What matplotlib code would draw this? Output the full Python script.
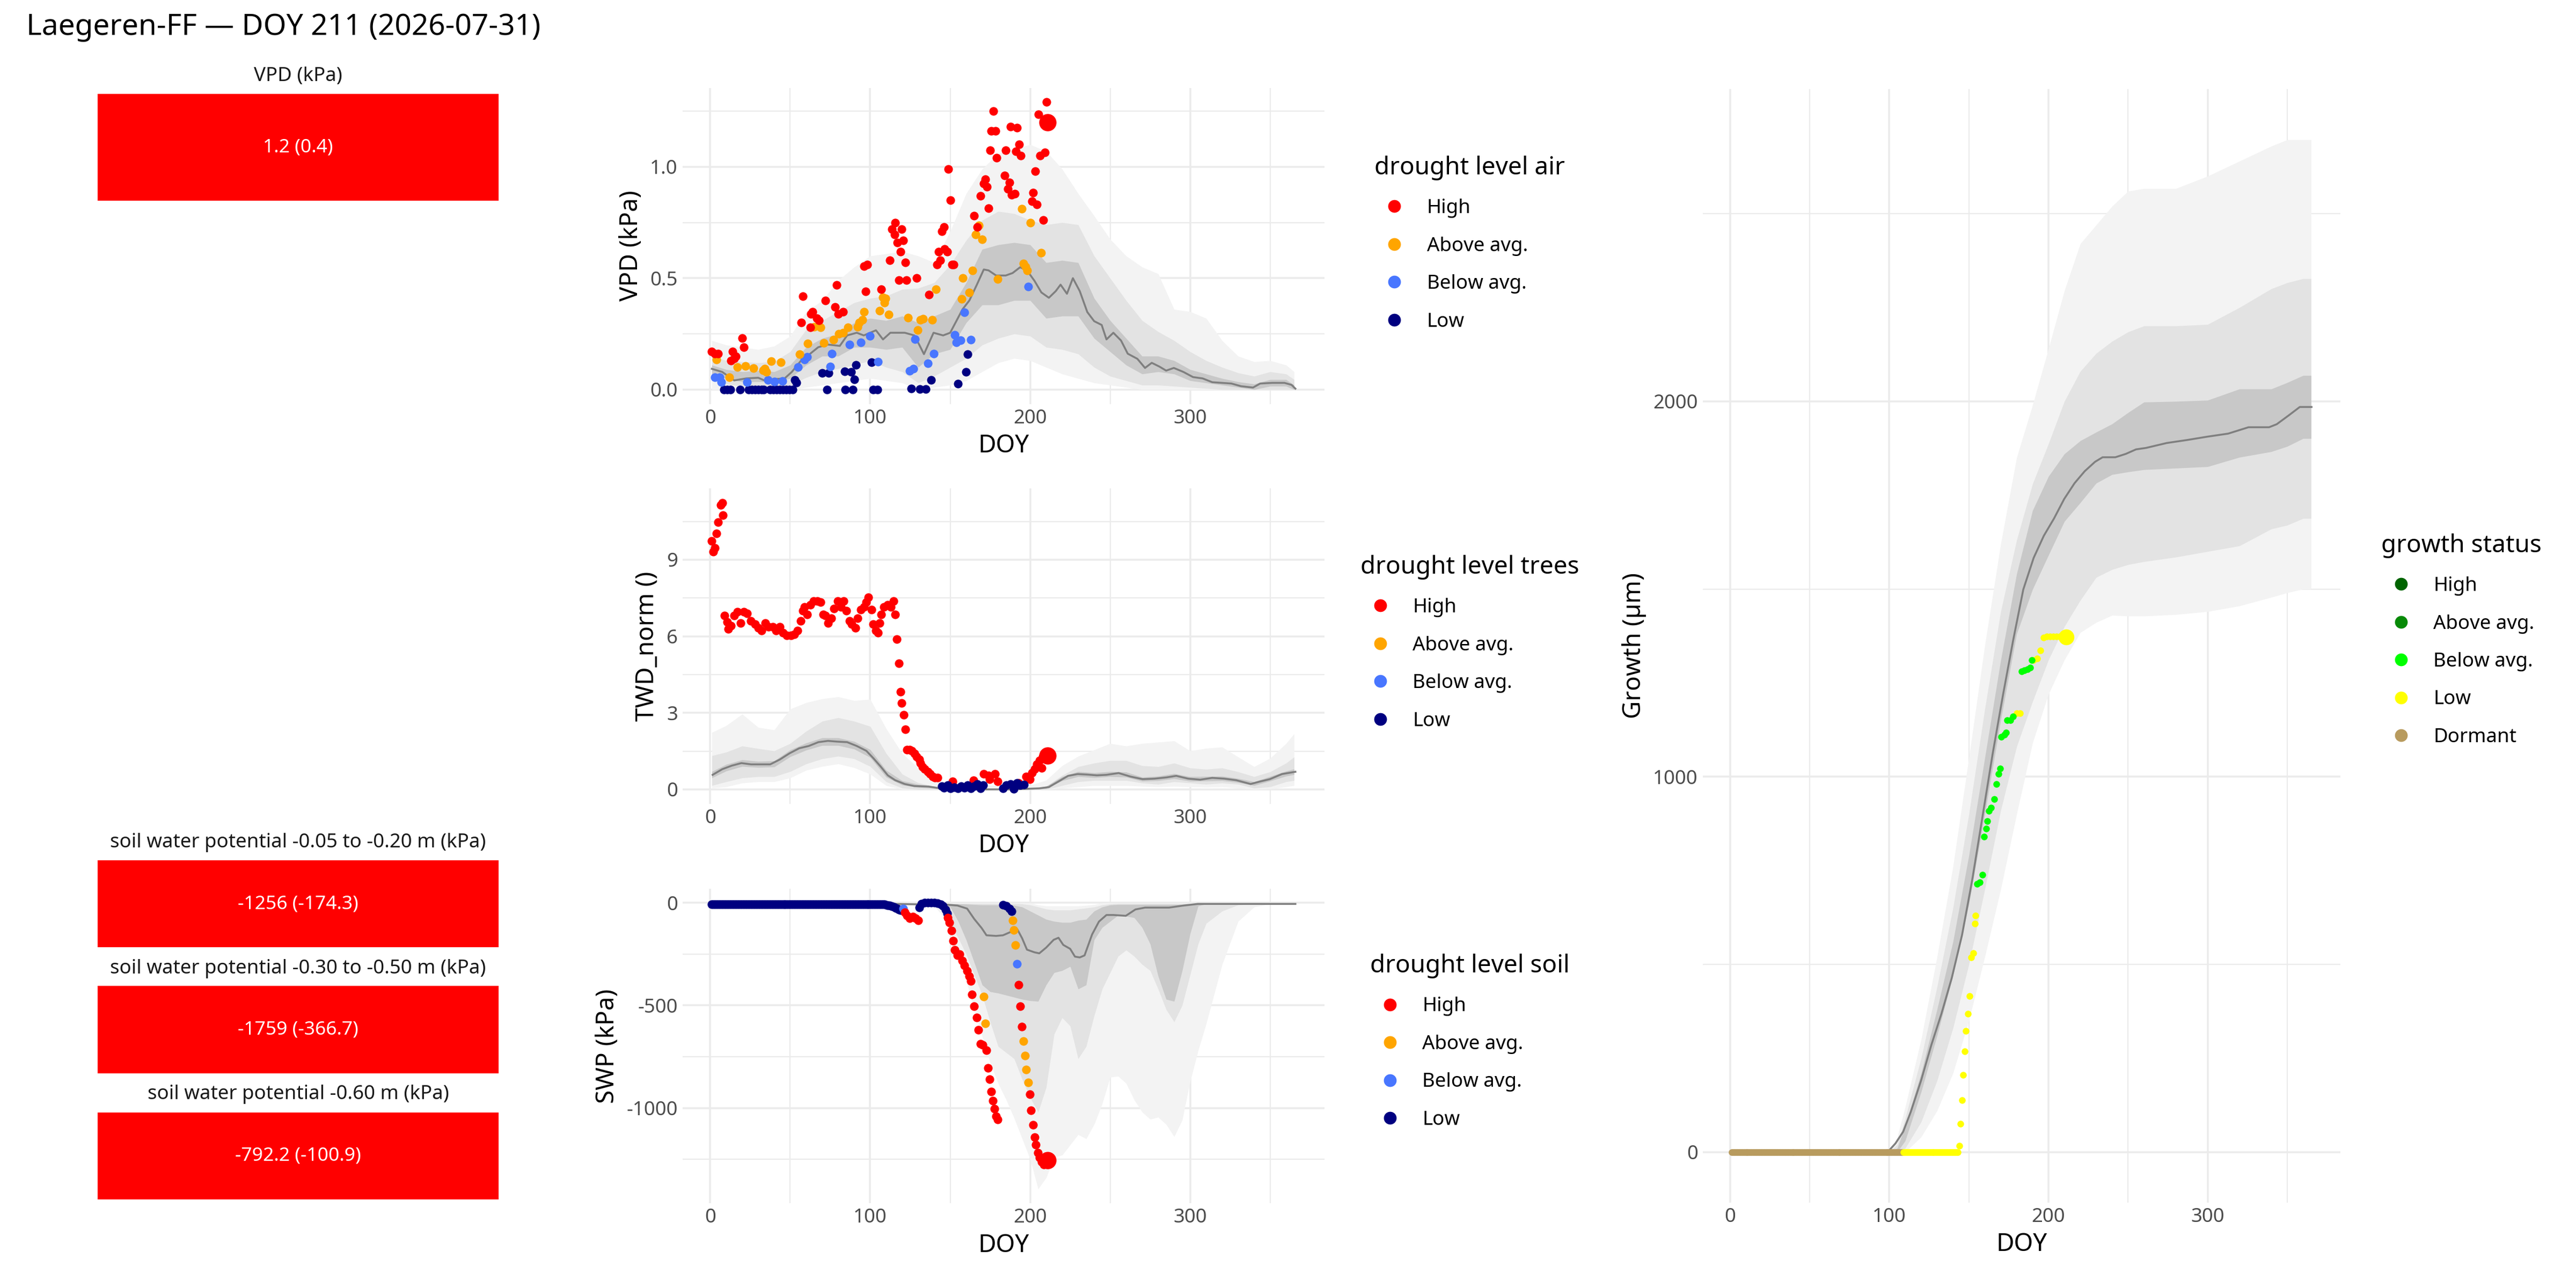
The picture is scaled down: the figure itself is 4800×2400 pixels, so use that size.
import numpy as np
import matplotlib
matplotlib.use('Agg')
import matplotlib.pyplot as plt
from matplotlib.ticker import MultipleLocator, FormatStrFormatter
from matplotlib.lines import Line2D
from matplotlib.patches import Rectangle

plt.rcParams['font.family'] = ['Noto Sans', 'DejaVu Sans']
plt.rcParams['axes.unicode_minus'] = False

# ---------------- data ----------------
title = 'Laegeren-FF — DOY 211 (2026-07-31)'
today_doy = 211

levels = ['High', 'Above avg.', 'Below avg.', 'Low']
level_colors = ['#FF0000', '#FFA500', '#4876FF', '#000080']
growth_levels = ['High', 'Above avg.', 'Below avg.', 'Low', 'Dormant']
growth_colors = ['#006400', '#078A07', '#00FF00', '#FFFF00', '#B89B5E']

box_titles = ['VPD (kPa)', 'soil water potential -0.05 to -0.20 m (kPa)',
              'soil water potential -0.30 to -0.50 m (kPa)', 'soil water potential -0.60 m (kPa)']
box_values = ['1.2 (0.4)', '-1256 (-174.3)', '-1759 (-366.7)', '-792.2 (-100.9)']
box_colors = ['#FF0000', '#FF0000', '#FF0000', '#FF0000']

# ---- VPD ----
vpd_high_doy = [1, 3, 5, 13, 14, 15, 16, 20, 21, 57, 58, 62.6, 63, 64, 66.5, 68, 72, 78, 79, 80, 83, 96, 97, 98, 107,
                112.4, 113.5, 115.2, 115.7, 116.9, 117.8, 118.9, 119.7, 120.8, 121.9, 122.7, 129, 136.9, 141.8, 142.9,
                143.8, 144.9, 146, 146.6, 148.3, 148.9, 150, 151.1, 152.2, 164.9, 166.9, 168.9, 170.8, 171.9, 173,
                173.9, 174.9, 175.8, 177, 178.4, 179, 183.9, 184.8, 186, 186.9, 187.9, 188.5, 190.4, 191, 191.9, 193,
                194, 201.1, 201.9, 203.1, 204.3, 205.1, 206.2, 208.1, 209.2, 210.1]
vpd_high = [0.17, 0.16, 0.16, 0.13, 0.17, 0.14, 0.15, 0.23, 0.19, 0.30, 0.42, 0.28, 0.34, 0.35, 0.32, 0.31, 0.40, 0.37,
            0.47, 0.34, 0.35, 0.555, 0.44, 0.56, 0.45,
            0.58, 0.72, 0.695, 0.75, 0.66, 0.49, 0.62, 0.72, 0.67, 0.57, 0.49, 0.50, 0.425, 0.56, 0.62,
            0.58, 0.71, 0.73, 0.63, 0.62, 0.99, 0.85, 0.56, 0.56, 0.78, 0.73, 0.87, 0.925, 0.945, 0.91,
            0.815, 1.075, 1.16, 1.25, 1.16, 1.04, 0.96, 1.075, 0.90, 0.93, 1.18, 0.875, 0.88, 1.07, 1.175, 1.10,
            1.05, 0.845, 0.885, 0.98, 0.83, 1.235, 1.05, 0.76, 1.065, 1.29]
vpd_above_doy = [4, 12, 17, 22, 27, 33, 34, 35, 38, 44, 56, 61, 65, 69, 71, 77, 80.5, 83, 86, 92, 93, 95, 96, 106, 108,
                 109, 109.6, 111.5, 123.8, 129.8, 131.5, 133.1, 138.9, 141, 157.1, 157.9, 161.8, 163.8, 166, 167.9,
                 169.9, 179.8, 194.9, 195.7, 197.2, 198, 200, 207]
vpd_above = [0.135, 0.055, 0.10, 0.105, 0.095, 0.087, 0.094, 0.078, 0.127, 0.122, 0.158, 0.206, 0.282, 0.28, 0.21,
             0.224, 0.25, 0.256, 0.278, 0.282, 0.302, 0.314, 0.35, 0.354, 0.414,
             0.39, 0.41, 0.336, 0.322, 0.267, 0.313, 0.318, 0.313, 0.451, 0.407, 0.50, 0.436, 0.534, 0.695, 0.738,
             0.674, 0.497, 0.812, 0.566, 0.552, 0.534, 0.748, 0.615]
vpd_below_doy = [3, 6, 7, 23, 36, 40, 45, 55, 59, 60.5, 75, 76, 87, 94, 100, 105, 124.7, 127, 127.9, 136, 139.9, 153,
                 153.9, 156.4, 158.8, 162.9, 198.9]
vpd_below = [0.055, 0.054, 0.034, 0.034, 0.042, 0.036, 0.038, 0.102, 0.134, 0.146, 0.103, 0.162, 0.202, 0.212, 0.24,
             0.124, 0.083, 0.094, 0.227, 0.117, 0.161, 0.246, 0.212, 0.221, 0.347, 0.223, 0.462]
vpd_low_doy = [8.5, 10.5, 12.5, 18.5, 24, 26, 28, 30, 32, 33.5, 37.5, 39.5, 41.5, 43.5, 45.5, 47.5, 49.5, 51.5, 53, 54,
               70, 73, 74, 84, 84.5, 88, 89, 90, 91, 101, 102, 104.5, 125.8, 130.9, 134.8, 138, 154.8, 159.9, 160.9]
vpd_low = [0, 0, 0, 0, 0, 0, 0, 0, 0, 0, 0, 0, 0, 0, 0, 0, 0, 0, 0.042, 0.03,
           0.074, 0, 0.074, 0.082, 0, 0.08, 0, 0.046, 0.11, 0.122, 0, 0, 0.005, 0.002, 0.002, 0.043, 0.025, 0.08, 0.159]
vpd_today = 1.2

vpd_med_doy = [1, 7.5, 15, 22.5, 30, 34.5, 40.5, 46.5, 51, 57, 61.5, 67.5, 73.5, 81, 85.6, 91.6, 96, 103.6, 108, 112.6,
               121.6, 127.6, 130.6, 133.6, 139.6, 145.6, 150, 157.7, 162, 166.7, 171, 174, 178.7, 184.7, 189, 193.7,
               198, 202.7, 207, 211.7, 216, 219, 223, 226.7, 231, 235.7, 240, 244.7, 247.7, 252, 256.8, 261, 267,
               271.8, 276, 280.8, 285, 289.8, 295.8, 301.8, 307.8, 313.8, 319.8, 325.8, 331.8, 339.3, 343.8, 351.4,
               358.9, 363.4, 365.8]
vpd_med = [0.093, 0.079, 0.041, 0.05, 0.053, 0.039, 0.047, 0.05, 0.079, 0.132, 0.155, 0.19, 0.202, 0.196, 0.243, 0.255,
           0.243, 0.266, 0.225, 0.255, 0.255, 0.243, 0.202, 0.159, 0.255, 0.243, 0.255, 0.36, 0.4, 0.471, 0.539, 0.535,
           0.512, 0.512, 0.523, 0.549, 0.535, 0.488, 0.436, 0.412, 0.442, 0.471, 0.43, 0.5, 0.442, 0.348, 0.307, 0.29,
           0.225, 0.255, 0.22, 0.161, 0.138, 0.097, 0.12, 0.103, 0.085, 0.097, 0.079, 0.056, 0.05, 0.033, 0.03, 0.027,
           0.015, 0.009, 0.027, 0.03, 0.03, 0.021, 0.004]

clim_doy = [1, 10, 20, 30, 40, 50, 60, 70, 80, 90, 100, 110, 120, 130, 140, 150, 160, 170, 180, 190, 200, 210, 220,
            230, 240, 250, 260, 270, 280, 290, 300, 310, 320, 330, 340, 350, 360, 365]
vpd_q_lo3 = [0.0, 0.0, 0.0, 0.0, 0.0, 0.0, 0.01, 0.02, 0.03, 0.04, 0.05, 0.04, 0.03, 0.0, 0.01, 0.02, 0.04, 0.08, 0.12,
             0.14, 0.13, 0.10, 0.07, 0.05, 0.03, 0.02, 0.01, 0.0, 0.0, 0.0, 0.0, 0.0, 0.0, 0.0, 0.0, 0.0, 0.0, 0.0]
vpd_q_hi3 = [0.22, 0.20, 0.19, 0.18, 0.195, 0.24, 0.35, 0.40, 0.49, 0.55, 0.60, 0.61, 0.62, 0.60, 0.57, 0.71, 0.88,
             0.99, 1.06, 1.08, 1.10, 1.07, 0.99, 0.88, 0.78, 0.675, 0.60, 0.55, 0.52, 0.36, 0.35, 0.32, 0.22, 0.15,
             0.125, 0.13, 0.11, 0.08]
vpd_q_lo2 = [0.04, 0.025, 0.014, 0.012, 0.014, 0.02, 0.054, 0.08, 0.094, 0.11, 0.13, 0.10, 0.08, 0.03, 0.06, 0.10,
             0.14, 0.20, 0.23, 0.25, 0.24, 0.19, 0.18, 0.16, 0.10, 0.06, 0.04, 0.02, 0.02, 0.015, 0.01, 0.005, 0.0,
             0.0, 0.0, 0.0, 0.0, 0.0]
vpd_q_hi2 = [0.15, 0.13, 0.125, 0.12, 0.126, 0.17, 0.27, 0.31, 0.35, 0.39, 0.41, 0.42, 0.45, 0.455, 0.48, 0.56, 0.67,
             0.76, 0.80, 0.79, 0.76, 0.74, 0.75, 0.74, 0.60, 0.50, 0.40, 0.31, 0.26, 0.22, 0.17, 0.13, 0.10, 0.075,
             0.06, 0.08, 0.07, 0.045]
vpd_q_lo1 = [0.07, 0.05, 0.035, 0.035, 0.035, 0.05, 0.11, 0.15, 0.15, 0.19, 0.19, 0.18, 0.19, 0.10, 0.16, 0.18, 0.30,
             0.38, 0.38, 0.40, 0.40, 0.32, 0.33, 0.33, 0.23, 0.17, 0.11, 0.07, 0.08, 0.07, 0.04, 0.03, 0.02, 0.01,
             0.0, 0.015, 0.015, 0.0]
vpd_q_hi1 = [0.11, 0.09, 0.08, 0.085, 0.08, 0.11, 0.19, 0.23, 0.25, 0.30, 0.32, 0.31, 0.33, 0.30, 0.33, 0.36, 0.48,
             0.63, 0.65, 0.66, 0.65, 0.57, 0.58, 0.57, 0.41, 0.31, 0.23, 0.15, 0.15, 0.13, 0.09, 0.07, 0.05, 0.035,
             0.025, 0.045, 0.045, 0.02]

# ---- TWD ----
twd_high_doy = [1, 2, 3, 4, 5, 6.6, 7.5, 8, 9, 10.5, 11.4, 13, 15, 17, 19, 21, 23, 25.5, 28, 30, 32, 34.5, 36.6, 39, 41,
                43.5, 45.6, 48, 50.4, 52.5, 54.7, 56.5, 58, 59, 60.7, 62.5, 64.6, 67, 69, 70.6, 72, 73.6, 75.7, 77.5,
                79.6, 81.7, 83.5, 85, 87, 88.6, 90.7, 92.2, 94, 96, 97.6, 99, 101, 102, 103.6, 105, 106, 107, 108.7,
                111, 113, 114.7, 115.6, 116.5, 118, 119, 119.8, 121, 122, 123, 124.6, 126, 127.6, 129, 130.6, 131.5,
                132.7, 134.2, 136, 137.5, 139, 140.5, 142, 151.6, 164.6, 171, 174, 174.5, 178, 179.6, 192.8, 197.3,
                199.7, 201.2, 202.7, 204.2, 205.7, 207.2, 208, 209.3]
twd_high = [9.74, 9.31, 9.45, 10.03, 10.46, 11.14, 11.23, 10.75, 6.8, 6.56, 6.28, 6.42, 6.8, 6.95, 6.52, 6.95, 6.9,
            6.61, 6.47, 6.32, 6.23, 6.52, 6.37, 6.37, 6.23, 6.37, 6.13, 6.03, 6.03, 6.08, 6.23, 6.61, 7.0, 7.14, 6.85,
            7.24, 7.38, 7.38, 7.33, 6.85, 6.8, 6.52, 6.71, 7.09, 7.38, 7.14, 7.38, 7.0, 6.61, 6.47, 6.32, 6.71, 7.05,
            7.14, 7.33, 7.53, 7.05, 6.47, 6.23, 6.13, 6.52, 6.85, 7.14, 7.24, 7.14, 7.38, 6.85, 5.89, 4.93, 3.82, 3.39,
            2.91, 2.35, 1.56, 1.56, 1.51, 1.41, 1.27, 1.17, 1.03, 0.89, 0.79, 0.69, 0.6, 0.5, 0.45, 0.45, 0.31, 0.36,
            0.6, 0.55, 0.4, 0.6, 0.31, 0.26, 0.5, 0.4, 0.64, 0.79, 0.98, 1.13, 0.84, 1.27, 1.37]
twd_low_doy = [144.7, 146, 148.6, 150, 152.5, 154.7, 156.8, 159, 161, 163, 165, 167, 169, 170.6, 183, 185, 187.7,
               189.8, 191.6, 193.7, 196]
twd_low = [0.12, 0.07, 0.16, 0.04, 0.09, 0.04, 0.12, 0.07, 0.16, 0.04, 0.12, 0.21, 0.04, 0.16, 0.04, 0.16, 0.21,
           0.02, 0.24, 0.16, 0.19]
twd_today = 1.32

twd_med_doy = [1.5, 7.5, 13.5, 19.5, 25.5, 31.5, 37.5, 43.5, 49.5, 55.6, 61.6, 67.6, 73.6, 79.6, 85.6, 91.6, 97.6, 102,
               106.6, 111, 115.6, 121.6, 127.6, 136.6, 145.6, 157.7, 187.7, 205.7, 211.7, 217.7, 223.7, 229.7, 235.7,
               241.7, 247.7, 255.3, 262.8, 270.3, 277.8, 285.3, 291.3, 298.8, 306.3, 313.8, 321.3, 328.8, 337.8,
               343.8, 349.8, 357.4, 365.8]
twd_med = [0.57, 0.79, 0.93, 1.03, 0.98, 0.98, 0.98, 1.17, 1.41, 1.61, 1.7, 1.85, 1.9, 1.87, 1.85, 1.7, 1.51, 1.22,
           0.89, 0.55, 0.36, 0.21, 0.13, 0.11, 0.02, 0.0, 0.0, 0.04, 0.09, 0.31, 0.53, 0.6, 0.58, 0.55, 0.57, 0.64,
           0.5, 0.4, 0.42, 0.47, 0.53, 0.42, 0.38, 0.45, 0.42, 0.36, 0.21, 0.31, 0.4, 0.6, 0.69]
twd_q_lo3 = [0.05, 0.1, 0.25, 0.3, 0.3, 0.45, 0.75, 0.9, 1.0, 0.85, 0.6, 0.15, 0.0, 0.0, 0.0, 0.0, 0.0, 0.0, 0.0, 0.0,
             0.0, 0.0, 0.05, 0.1, 0.15, 0.15, 0.15, 0.12, 0.1, 0.12, 0.1, 0.08, 0.1, 0.05, 0.0, 0.02, 0.1, 0.15]
twd_q_hi3 = [2.23, 2.5, 2.95, 2.43, 2.33, 3.15, 3.4, 3.55, 3.63, 3.48, 3.53, 2.38, 1.41, 0.84, 0.36, 0.16, 0.16, 0.16,
             0.16, 0.16, 0.16, 0.36, 0.93, 1.3, 1.55, 1.8, 1.7, 1.8, 1.85, 1.9, 1.51, 1.61, 1.66, 1.27, 0.89, 1.22,
             1.8, 2.18]
twd_q_lo2 = [0.15, 0.3, 0.45, 0.5, 0.5, 0.7, 1.0, 1.2, 1.3, 1.2, 0.9, 0.3, 0.05, 0.0, 0.0, 0.0, 0.0, 0.0, 0.0, 0.0,
             0.0, 0.0, 0.15, 0.3, 0.35, 0.35, 0.35, 0.25, 0.2, 0.3, 0.25, 0.2, 0.25, 0.2, 0.05, 0.1, 0.3, 0.35]
twd_q_hi2 = [1.32, 1.46, 1.7, 1.6, 1.51, 1.8, 2.28, 2.67, 2.81, 2.67, 2.47, 1.41, 0.6, 0.26, 0.12, 0.02, 0.02, 0.02,
             0.02, 0.02, 0.02, 0.12, 0.55, 0.89, 1.03, 1.13, 1.13, 0.93, 0.89, 1.03, 0.84, 0.79, 0.84, 0.69, 0.5, 0.69,
             1.03, 1.27]
twd_q_lo1 = [0.45, 0.72, 0.9, 0.86, 0.88, 1.28, 1.54, 1.72, 1.72, 1.58, 1.25, 0.48, 0.17, 0.08, 0.04, 0.0, 0.0, 0.0,
             0.0, 0.0, 0.0, 0.03, 0.34, 0.5, 0.46, 0.5, 0.48, 0.32, 0.34, 0.42, 0.32, 0.33, 0.34, 0.27, 0.15, 0.33,
             0.52, 0.58]
twd_q_hi1 = [0.7, 0.98, 1.16, 1.1, 1.12, 1.55, 1.82, 2.02, 2.02, 1.88, 1.56, 0.75, 0.34, 0.2, 0.12, 0.03, 0.02, 0.02,
             0.02, 0.02, 0.03, 0.12, 0.5, 0.7, 0.65, 0.7, 0.68, 0.48, 0.52, 0.62, 0.5, 0.51, 0.52, 0.43, 0.3, 0.51,
             0.72, 0.8]

# ---- SWP ----
swp_high_doy = [121.6, 123, 124.6, 126.7, 128.5, 130, 148.6, 149.5, 150.8, 152, 153, 154.6, 156, 157.7, 159, 160.6,
                162, 163, 163.7, 165, 166.7, 167.6, 169, 170.3, 172.7, 173.6, 174.8, 175.7, 176.6, 177.8, 178.7,
                179.6, 192.8, 193.7, 194.9, 199.7, 200.6, 201.8, 202.7, 203.6, 204.8, 205.7, 207.2, 208.7]
swp_high = [-47, -63, -76, -68, -76, -85, -72, -97, -135, -186, -230, -256, -249, -281, -306, -332, -357, -382, -446,
            -503, -560, -619, -686, -693, -718, -806, -861, -920, -965, -1003, -1041, -1057, -399, -503, -604, -933,
            -1013, -1082, -1142, -1180, -1218, -1243, -1262, -1275]
swp_above_doy = [171, 172, 189, 189.8, 190.7, 195.8, 196.7, 197.6, 198.8]
swp_above = [-458, -587, -85, -132, -205, -673, -746, -813, -876]
swp_below_doy = [120.7, 191.6]
swp_below = [-28, -296]
swp_low_doy = list(range(1, 120)) + [130.6, 132, 134, 136, 138, 140, 142, 144, 145.6, 147, 148, 183, 185, 187, 188.3]
swp_low = [-8, -8, -8, -8, -8, -8, -8, -8, -8, -8, -8, -8, -8, -8, -8, -8, -8, -8, -8, -8,
           -8, -8, -8, -8, -8, -8, -8, -8, -8, -8, -8, -8, -8, -8, -8, -8, -8, -8, -8, -8,
           -8, -8, -8, -8, -8, -8, -8, -8, -8, -8, -8, -8, -8, -8, -8, -8, -8, -8, -8, -8,
           -8, -8, -8, -8, -8, -8, -8, -8, -8, -8, -8, -8, -8, -8, -8, -8, -8, -8, -8, -8,
           -8, -8, -8, -8, -8, -8, -8, -8, -8, -8, -8, -8, -8, -8, -8, -8, -8, -8, -8, -8,
           -8, -8, -8, -8, -8, -8, -8, -8, -8, -10, -11, -13, -15, -17, -20, -24, -28, -32, -36,
           -22, -3, 0, 0, 0, 0, -2, -8, -15, -34, -51, -9, -15, -28, -41]
swp_today = -1256

swp_med_doy = [1, 112.6, 148.6, 154.6, 160.6, 165, 169.7, 172.7, 178.7, 183, 187.7, 192, 195, 198, 202.7, 205.7, 210,
               214.7, 217.7, 220.7, 225, 228, 231, 234, 238.7, 243, 247.7, 252, 259.8, 265.8, 271.8, 277.8, 286.8,
               295.8, 304.8, 310.8, 337.8, 365.8]
swp_med = [-5, -5, -9, -13, -28, -78, -123, -158, -161, -158, -142, -129, -173, -228, -241, -246, -218, -180, -170,
           -205, -224, -262, -266, -256, -154, -91, -59, -59, -63, -32, -23, -23, -23, -13, -5, -5, -5, -5]
swp_clim_doy = [1, 100, 130, 140, 145, 150, 155, 160, 165, 170, 175, 180, 185, 190, 195, 200, 205, 210, 215, 220, 225,
                230, 235, 240, 245, 250, 255, 260, 265, 270, 275, 280, 285, 290, 295, 300, 305, 310, 320, 330, 340,
                350, 365]
swp_q_lo3 = [-2, -3, -5, -15, -60, -150, -250, -380, -520, -650, -780, -880, -960, -1050, -1150, -1250, -1395, -1340,
             -1240, -1230, -1180, -1130, -1150, -1080, -980, -850, -845, -880, -960, -1020, -1055, -1045, -1080, -1140,
             -1060, -870, -720, -590, -300, -90, -20, -5, -2]
swp_q_hi3 = [0, 0, 0, 0, 0, 0, 0, 0, 0, 0, 0, 0, 0, 0, 0, 0, -10, -15, -15, -15, -15, -15, -12, -8, 0, 0, 0, 0, 0, 0,
             0, 0, 0, 0, 0, 0, 0, 0, 0, 0, 0, 0, 0]
swp_q_lo2 = [-2, -3, -8, -10, -30, -100, -170, -250, -350, -450, -580, -700, -730, -760, -860, -950, -1020, -900, -640,
             -560, -600, -760, -700, -550, -420, -340, -260, -230, -260, -300, -330, -420, -520, -580, -500, -350, -200,
             -100, -40, -10, -5, -3, -2]
swp_q_hi2 = [-1, -1, -2, -2, -2, -3, -3, -3, -3, -3, -3, -3, -3, -4, -5, -10, -20, -30, -35, -35, -35, -30, -25, -20,
             -10, -5, -3, -3, -3, -3, -3, -3, -3, -3, -3, -3, -2, -2, -1, -1, -1, -1, -1]
swp_q_lo1 = [-2, -3, -5, -8, -10, -20, -90, -180, -290, -400, -433, -440, -450, -460, -470, -477, -480, -400, -340,
             -330, -310, -420, -400, -180, -120, -90, -60, -65, -72, -120, -200, -357, -470, -480, -332, -150, -15, -5,
             -3, -2, -2, -2, -2]
swp_q_hi1 = [-2, -2, -3, -4, -5, -5, -5, -6, -8, -10, -10, -10, -10, -12, -20, -40, -60, -80, -90, -95, -95, -85, -80,
             -40, -20, -10, -8, -8, -8, -8, -8, -8, -8, -8, -8, -8, -5, -3, -2, -2, -2, -2, -2]

# ---- Growth ----
gro_dormant_doy = list(range(1, 109))
gro_dormant = [0, 0, 0, 0, 0, 0, 0, 0, 0, 0, 0, 0, 0, 0, 0, 0, 0, 0, 0, 0, 0, 0, 0, 0, 0, 0, 0,
               0, 0, 0, 0, 0, 0, 0, 0, 0, 0, 0, 0, 0, 0, 0, 0, 0, 0, 0, 0, 0, 0, 0, 0, 0, 0, 0,
               0, 0, 0, 0, 0, 0, 0, 0, 0, 0, 0, 0, 0, 0, 0, 0, 0, 0, 0, 0, 0, 0, 0, 0, 0, 0, 0,
               0, 0, 0, 0, 0, 0, 0, 0, 0, 0, 0, 0, 0, 0, 0, 0, 0, 0, 0, 0, 0, 0, 0, 0, 0, 0, 0]
gro_low_doy = list(range(109, 144)) + [144, 144.7, 145.7, 146.3, 147.3, 148.2, 149.5, 150.5, 151.4, 152.7, 153.7,
                                       154.3, 180, 182, 190.7, 193, 194.9, 197, 199, 201, 203, 205, 207, 209]
gro_low = [0, 0, 0, 0, 0, 0, 0, 0, 0, 0, 0, 0, 0, 0, 0, 0, 0, 0, 0, 0, 0, 0, 0, 0, 0, 0, 0, 0, 0, 0, 0, 0, 0, 0, 0,
           17, 75, 138, 205, 268, 323, 369, 415, 519, 530, 609, 630, 1169, 1169, 1311, 1315, 1336, 1370, 1374, 1374,
           1374, 1374, 1374, 1374]
gro_below_doy = [155.3, 156.9, 158.5, 159.5, 160.8, 161.7, 162.7, 164, 165.9, 167.2, 168.8, 169.8, 170.4, 172.3, 173.3,
                 174, 176.2, 177.8, 183.3, 184.9, 186.8, 188.4, 189.7]
gro_below = [714, 718, 739, 840, 861, 882, 909, 918, 940, 980, 1007, 1022, 1106, 1112, 1118, 1150, 1150, 1160, 1280,
             1284, 1286, 1290, 1311]
gro_today = 1372

gro_med_doy = [1, 99, 103.9, 108.7, 113.5, 120, 126.4, 132.8, 139.2, 145.7, 152.1, 158.5, 164.9, 171.4, 177.8, 184.2,
               190.7, 197.1, 203.5, 209.9, 216.4, 222.8, 229.3, 234, 242, 248.6, 255, 261.4, 274.3, 287.1, 300, 312.9,
               325.7, 338.6, 343.4, 351.4, 357.9, 365.3]
gro_med = [0, 0, 23, 54, 107, 191, 285, 369, 463, 578, 725, 892, 1060, 1217, 1363, 1499, 1583, 1642, 1688, 1740, 1782,
           1814, 1839, 1851, 1851, 1860, 1872, 1876, 1889, 1897, 1906, 1914, 1931, 1931, 1939, 1964, 1985, 1985]
gro_clim_doy = [1, 100, 105, 110, 120, 130, 140, 150, 160, 170, 180, 190, 200, 210, 220, 230, 240, 250, 260, 280, 300,
                320, 340, 350, 360, 365]
gro_q_lo3 = [0, 0, 0, 0, 40, 110, 210, 350, 520, 700, 900, 1090, 1220, 1311, 1384, 1411, 1430, 1428, 1428, 1432, 1440,
             1455, 1478, 1490, 1500, 1500]
gro_q_hi3 = [0, 0, 40, 120, 300, 520, 760, 1050, 1350, 1620, 1850, 1990, 2140, 2295, 2420, 2470, 2520, 2560, 2567,
             2567, 2600, 2640, 2680, 2697, 2697, 2697]
gro_q_lo2 = [0, 0, 0, 10, 80, 190, 330, 500, 700, 910, 1080, 1200, 1311, 1400, 1470, 1531, 1552, 1565, 1573, 1585,
             1600, 1615, 1660, 1670, 1688, 1688]
gro_q_hi2 = [0, 0, 20, 90, 250, 440, 650, 900, 1180, 1440, 1630, 1780, 1887, 2000, 2080, 2128, 2160, 2185, 2201, 2201,
             2205, 2250, 2300, 2316, 2327, 2327]
gro_q_lo1 = [0, 0, 0, 30, 160, 310, 470, 660, 900, 1150, 1380, 1499, 1590, 1680, 1730, 1782, 1805, 1812, 1818, 1822,
             1826, 1851, 1866, 1880, 1901, 1901]
gro_q_hi1 = [0, 0, 10, 70, 210, 380, 560, 790, 1050, 1310, 1540, 1709, 1800, 1860, 1895, 1918, 1940, 1970, 1998, 2000,
             2003, 2033, 2033, 2050, 2069, 2069]

# ---------------- drawing ----------------
band_colors = ['#F3F3F3', '#E3E3E3', '#C8C8C8']
grid_col = '#EBEBEB'


def style_axis(ax, ystep, ylabel, yfmt=None):
    for s in ax.spines.values():
        s.set_visible(False)
    ax.xaxis.set_major_locator(MultipleLocator(100))
    ax.xaxis.set_minor_locator(MultipleLocator(50))
    ax.yaxis.set_major_locator(MultipleLocator(ystep))
    ax.yaxis.set_minor_locator(MultipleLocator(ystep / 2))
    if yfmt:
        ax.yaxis.set_major_formatter(FormatStrFormatter(yfmt))
    ax.grid(which='major', color=grid_col, lw=0.85)
    ax.grid(which='minor', color=grid_col, lw=0.55)
    ax.set_axisbelow(True)
    ax.tick_params(which='both', length=0, labelsize=8.8, labelcolor='#4D4D4D', pad=2.2)
    ax.set_xlabel('DOY', fontsize=11, labelpad=2.5)
    ax.set_ylabel(ylabel, fontsize=11, labelpad=3)
    ax.margins(x=0.05, y=0.05)


def clim(ax, cdoy, bands, mdoy, mval):
    for (lo, hi), col in zip(bands, band_colors):
        ax.fill_between(cdoy, lo, hi, color=col, lw=0)
    ax.plot(mdoy, mval, color='#7F7F7F', lw=0.85)


def add_legend(ax, title_txt, labels, colors, cx, cy):
    handles = [Line2D([], [], ls='none', marker='o', markersize=5.7, markerfacecolor=c, markeredgecolor='none')
               for c in colors]
    ax.legend(handles, labels, title=title_txt, loc='center', bbox_to_anchor=(cx, cy),
              bbox_transform=fig.transFigure, frameon=False, fontsize=8.8, title_fontsize=11,
              alignment='left', handlelength=2.0, handletextpad=0.65, labelspacing=0.94,
              borderpad=0, borderaxespad=0)


fig = plt.figure(figsize=(16, 8), dpi=300)
fig.patch.set_facecolor('white')

ax_vpd = fig.add_axes([0.265, 0.6864, 0.2492, 0.2454])
ax_twd = fig.add_axes([0.265, 0.376, 0.2492, 0.2448])
ax_swp = fig.add_axes([0.265, 0.0658, 0.2492, 0.2443])
ax_gro = fig.add_axes([0.661, 0.0663, 0.2476, 0.8645])

pt = 15
big = 60

# VPD
clim(ax_vpd, clim_doy, [(vpd_q_lo3, vpd_q_hi3), (vpd_q_lo2, vpd_q_hi2), (vpd_q_lo1, vpd_q_hi1)], vpd_med_doy, vpd_med)
for d, v, c in [(vpd_low_doy, vpd_low, level_colors[3]), (vpd_below_doy, vpd_below, level_colors[2]),
                (vpd_above_doy, vpd_above, level_colors[1]), (vpd_high_doy, vpd_high, level_colors[0])]:
    ax_vpd.scatter(d, v, s=pt, color=c, linewidths=0, zorder=3)
ax_vpd.scatter([today_doy], [vpd_today], s=big, color=level_colors[0], linewidths=0, zorder=4)
style_axis(ax_vpd, 0.5, 'VPD (kPa)', '%.1f')
add_legend(ax_vpd, 'drought level air', levels, level_colors, 0.5706, 0.811)

# TWD
clim(ax_twd, clim_doy, [(twd_q_lo3, twd_q_hi3), (twd_q_lo2, twd_q_hi2), (twd_q_lo1, twd_q_hi1)], twd_med_doy, twd_med)
ax_twd.scatter(twd_high_doy, twd_high, s=pt, color=level_colors[0], linewidths=0, zorder=3)
ax_twd.scatter(twd_low_doy, twd_low, s=pt, color=level_colors[3], linewidths=0, zorder=3)
ax_twd.scatter([today_doy], [twd_today], s=big, color=level_colors[0], linewidths=0, zorder=4)
style_axis(ax_twd, 3, 'TWD_norm ()')
add_legend(ax_twd, 'drought level trees', levels, level_colors, 0.5706, 0.501)

# SWP
clim(ax_swp, swp_clim_doy, [(swp_q_lo3, swp_q_hi3), (swp_q_lo2, swp_q_hi2), (swp_q_lo1, swp_q_hi1)],
     swp_med_doy, swp_med)
for d, v, c in [(swp_low_doy, swp_low, level_colors[3]), (swp_below_doy, swp_below, level_colors[2]),
                (swp_above_doy, swp_above, level_colors[1]), (swp_high_doy, swp_high, level_colors[0])]:
    ax_swp.scatter(d, v, s=pt, color=c, linewidths=0, zorder=3)
ax_swp.scatter([today_doy], [swp_today], s=big, color=level_colors[0], linewidths=0, zorder=4)
style_axis(ax_swp, 500, 'SWP (kPa)')
add_legend(ax_swp, 'drought level soil', levels, level_colors, 0.5706, 0.1913)

# Growth
clim(ax_gro, gro_clim_doy, [(gro_q_lo3, gro_q_hi3), (gro_q_lo2, gro_q_hi2), (gro_q_lo1, gro_q_hi1)],
     gro_med_doy, gro_med)
for d, v, c in [(gro_dormant_doy, gro_dormant, growth_colors[4]), (gro_low_doy, gro_low, growth_colors[3]),
                (gro_below_doy, gro_below, growth_colors[2])]:
    ax_gro.scatter(d, v, s=9, color=c, linewidths=0, zorder=3)
ax_gro.scatter([today_doy], [gro_today], s=50, color=growth_colors[3], linewidths=0, zorder=4)
style_axis(ax_gro, 1000, 'Growth (µm)')
add_legend(ax_gro, 'growth status', growth_levels, growth_colors, 0.9555, 0.503)

# value boxes on the left
box_x0, box_x1 = 0.0379, 0.1936
box_rows = [(0.8443, 0.927, 0.941), (0.2644, 0.3322, 0.3458), (0.1667, 0.2346, 0.248), (0.0686, 0.1364, 0.1504)]
for (y0, y1, ty), t, v, c in zip(box_rows, box_titles, box_values, box_colors):
    fig.patches.append(Rectangle((box_x0, y0), box_x1 - box_x0, y1 - y0, transform=fig.transFigure,
                                 facecolor=c, edgecolor='none'))
    fig.text((box_x0 + box_x1) / 2, (y0 + y1) / 2, v, color='white', ha='center', va='center', fontsize=8.5)
    fig.text((box_x0 + box_x1) / 2, ty, t, color='#1A1A1A', ha='center', va='center', fontsize=8.8)

fig.text(0.0102, 0.979, title, fontsize=13.2, ha='left', va='center')

plt.savefig('out.png', dpi=300, facecolor='white')
plt.close()
